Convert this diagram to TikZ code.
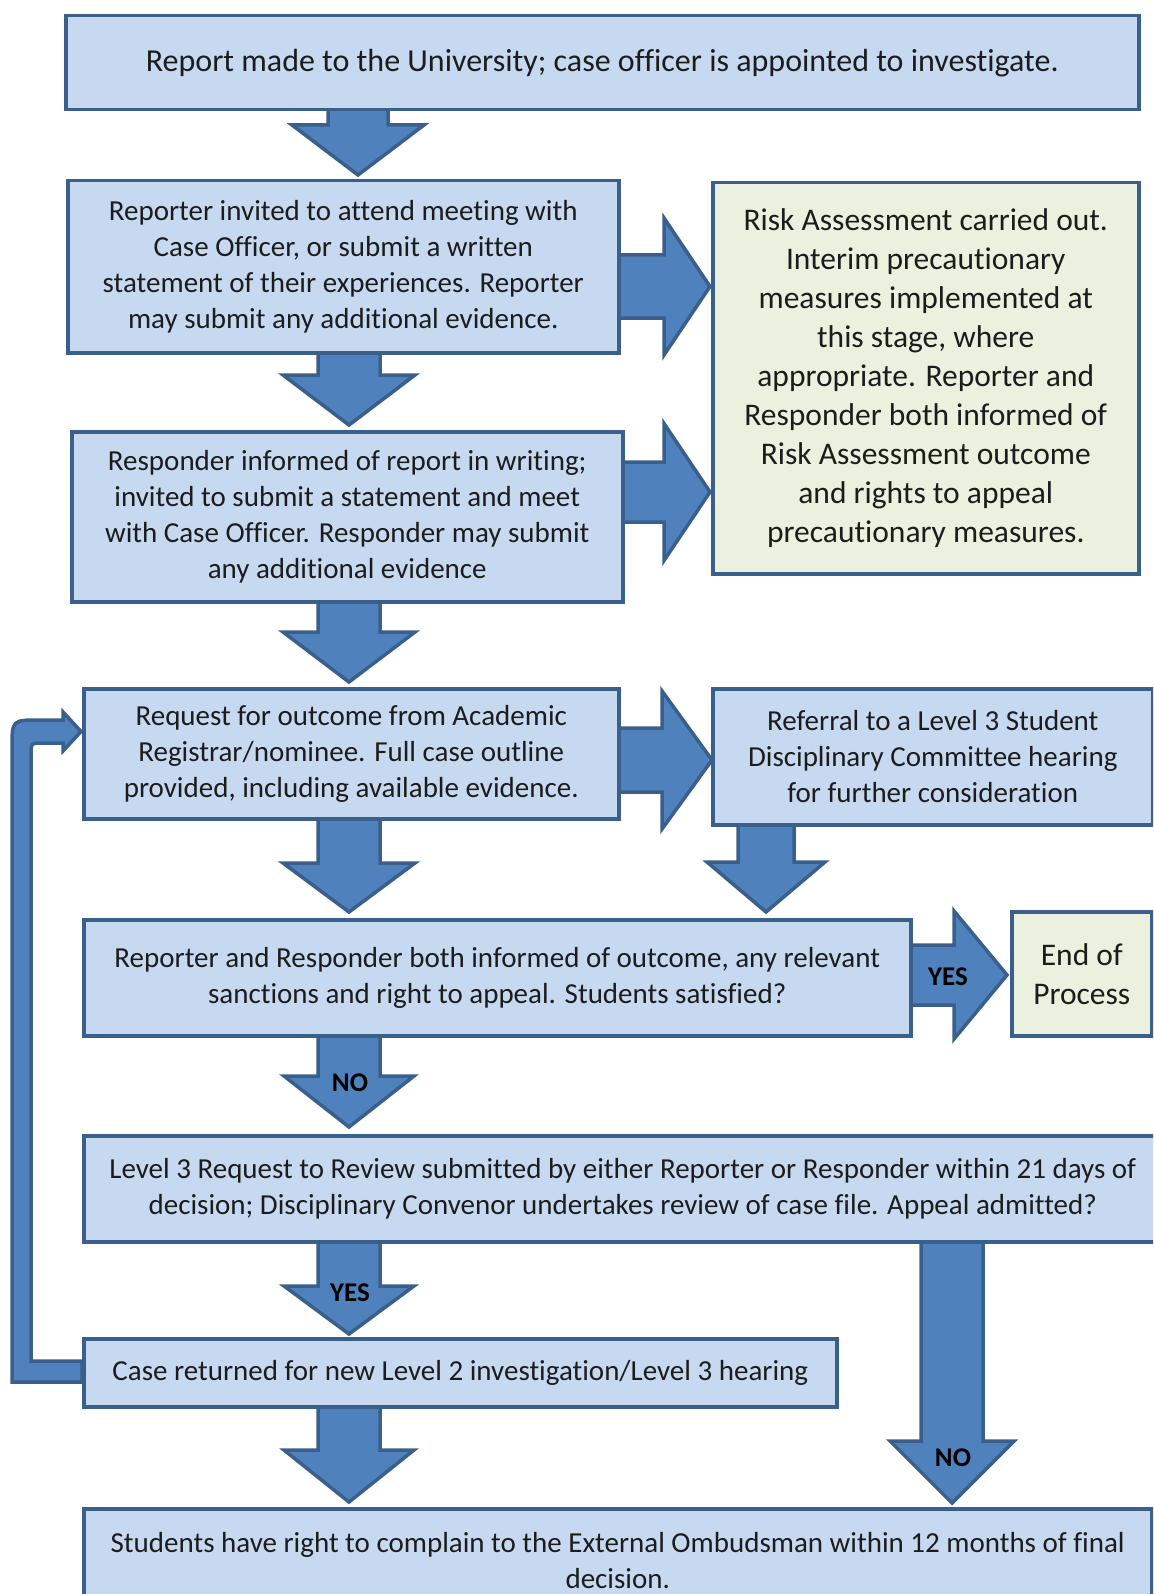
\documentclass[tikz,border=0pt]{standalone}
\usepackage{fontspec}
\setmainfont{Carlito}[Ligatures=NoCommon]
\definecolor{boxfill}{HTML}{C6D9F1}
\definecolor{boxline}{HTML}{3A5F8B}
\definecolor{arrfill}{HTML}{4F81BD}
\definecolor{greenfill}{HTML}{EBF1DE}
\definecolor{txt}{HTML}{1C1C1C}
\tikzset{
  flowbox/.style={draw=boxline, line width=3.5pt, fill=boxfill, anchor=north west,
    inner sep=0pt, align=center, text=txt, font=\fontsize{29}{36}\selectfont},
  greenbox/.style={flowbox, fill=greenfill, font=\fontsize{31.5}{39}\selectfont},
  blockarrow/.style={draw=boxline, line width=3.5pt, fill=arrfill, line join=miter},
  arrlabel/.style={font=\bfseries\fontsize{27}{30}\selectfont, text=black, inner sep=0pt}
}
% down block arrow: cx, shaft half, head half, top y, head y, tip y
\newcommand\DArr[6]{%
  \filldraw[blockarrow] (#1-#2,#4) -- (#1-#2,#5) -- (#1-#3,#5) -- (#1,#6) --
    (#1+#3,#5) -- (#1+#2,#5) -- (#1+#2,#4) -- cycle;}
% right block arrow: cy, shaft half, head half, left x, head x, tip x
\newcommand\RArr[6]{%
  \filldraw[blockarrow] (#4,#1-#2) -- (#5,#1-#2) -- (#5,#1-#3) -- (#6,#1) --
    (#5,#1+#3) -- (#5,#1+#2) -- (#4,#1+#2) -- cycle;}
\begin{document}
\begin{tikzpicture}[x=1pt,y=-1pt]
\useasboundingbox (0,0) rectangle (1153,1594);
\clip (0,0) rectangle (1153,1594);

% block arrows (drawn under the boxes)
\DArr{358}{30}{66}{108}{125}{175}
\DArr{349}{31}{66}{351}{375}{425}
\DArr{349}{31}{66}{600}{632}{682}
\DArr{349}{31}{66}{816}{863}{912}
\DArr{766}{28}{59}{823}{862}{912}
\DArr{349}{31}{65}{1034}{1076}{1127}
\DArr{349}{31}{65}{1240}{1286}{1334}
\DArr{349}{31}{65}{1405}{1450}{1502}
\DArr{952}{31}{62}{1240}{1441}{1503}
\RArr{286.5}{31.5}{68.5}{617}{664}{710}
\RArr{492}{30}{68.5}{621}{664}{710}
\RArr{760}{32}{69}{617}{662}{712}
\RArr{975}{30}{64}{909}{954}{1007}

% loop-back arrow
\filldraw[blockarrow] (82,1361) -- (31,1361) -- (31,755)
  .. controls (31,743) .. (43,743) -- (63,743) -- (63,751) -- (81,731.5)
  -- (63,712) -- (63,720) -- (40,720) .. controls (12,720) .. (12,748)
  -- (12,1382) -- (82,1382) -- cycle;

% boxes
\node[flowbox, minimum width=1073pt, minimum height=94pt, font=\fontsize{32}{38}\selectfont] (b1) at (64,14)
  {Report made to the University; case officer is appointed to investigate.};
\node[flowbox, minimum width=551pt, minimum height=172pt] (b2) at (66,179)
  {Reporter invited to attend meeting with\\Case Officer, or submit a written\\statement of their experiences. Reporter\\may submit any additional evidence.};
\node[flowbox, minimum width=551pt, minimum height=170pt] (b3) at (70,430)
  {Responder informed of report in writing;\\invited to submit a statement and meet\\with Case Officer. Responder may submit\\any additional evidence};
\node[greenbox, minimum width=426pt, minimum height=391pt] (risk) at (711,181)
  {Risk Assessment carried out.\\Interim precautionary\\measures implemented at\\this stage, where\\appropriate. Reporter and\\Responder both informed of\\Risk Assessment outcome\\and rights to appeal\\precautionary measures.};
\node[flowbox, minimum width=535pt, minimum height=130pt] (b4) at (82,687)
  {Request for outcome from Academic\\Registrar/nominee. Full case outline\\provided, including available evidence.};
\node[flowbox, minimum width=440pt, minimum height=136pt] (b5) at (711,687)
  {Referral to a Level 3 Student\\Disciplinary Committee hearing\\for further consideration};
\node[flowbox, minimum width=827pt, minimum height=116pt] (b6) at (82,918)
  {Reporter and Responder both informed of outcome, any relevant\\sanctions and right to appeal. Students satisfied?};
\node[greenbox, minimum width=140pt, minimum height=124pt] (end) at (1010,910)
  {End of\\Process};
\node[flowbox, minimum width=1078pt, minimum height=106pt] (l3) at (82,1134)
  {Level 3 Request to Review submitted by either Reporter or Responder within 21 days of\\decision; Disciplinary Convenor undertakes review of case file. Appeal admitted?};
\node[flowbox, minimum width=753pt, minimum height=68pt] (case) at (82,1337)
  {Case returned for new Level 2 investigation/Level 3 hearing};
\node[flowbox, minimum width=1068pt, minimum height=103pt] (final) at (82,1507)
  {Students have right to complain to the External Ombudsman within 12 months of final\\decision.};

% arrow labels
\node[arrlabel] (yes1) at (948,977) {YES};
\node[arrlabel] (no1) at (350,1083) {NO};
\node[arrlabel] (yes2) at (350,1293) {YES};
\node[arrlabel] (no2) at (953,1458) {NO};
\end{tikzpicture}
\end{document}
